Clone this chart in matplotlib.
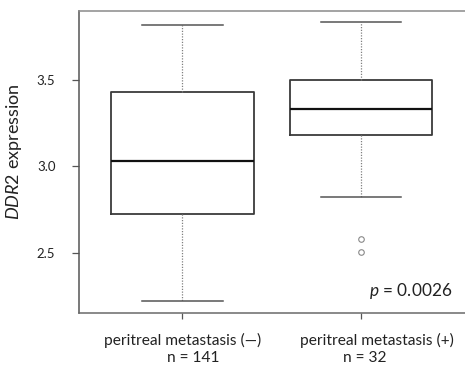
import matplotlib
matplotlib.use("Agg")
import matplotlib.pyplot as plt

# ---- data ----
groups = ["peritreal metastasis (\u2014)", "peritreal metastasis (+)"]
counts = ["n = 141", "n = 32"]
whisker_low = [2.219, 2.820]
q1 = [2.725, 3.180]
median = [3.029, 3.334]
q3 = [3.433, 3.499]
whisker_high = [3.820, 3.837]
outliers = [[], [2.577, 2.507]]
yticks = [2.5, 3.0, 3.5]
p_text = "$p$ = 0.0026"

plt.rcParams['font.family'] = ['Lato', 'DejaVu Sans']
plt.rcParams['mathtext.fontset'] = 'custom'
plt.rcParams['mathtext.it'] = 'Lato:italic'
plt.rcParams['mathtext.rm'] = 'Lato'

fig = plt.figure(figsize=(4.65, 3.69), dpi=100)
ax = fig.add_axes([79 / 465, 1 - 313 / 369, 390 / 465, 302 / 369])

positions = [1, 2]
stats = []
for i in range(len(groups)):
    stats.append(dict(med=median[i], q1=q1[i], q3=q3[i],
                      whislo=whisker_low[i], whishi=whisker_high[i],
                      fliers=outliers[i]))

ax.bxp(stats, positions=positions, widths=0.8, capwidths=0.45,
       boxprops=dict(color='#3a3a3a', linewidth=1.3),
       whiskerprops=dict(color='#808080', linewidth=0.9, linestyle=(0, (1, 1.2))),
       capprops=dict(color='#555555', linewidth=1.1),
       medianprops=dict(color='#111111', linewidth=1.6),
       flierprops=dict(marker='o', markersize=4, markerfacecolor='none',
                       markeredgecolor='#888888', markeredgewidth=0.8))

# right edge of the original frame is cropped off, so the axes run past the figure
ax.set_xlim(0.42, 2.606)
ax.set_ylim(2.151, 3.90)
ax.set_xticks(positions)
ax.set_xticklabels(["", ""])
ax.set_yticks(yticks)
ax.set_yticklabels([f"{t:.1f}" for t in yticks])
ax.tick_params(axis='both', colors='#555555', labelcolor='#222222', width=0.9)
ax.tick_params(axis='y', labelsize=9.5, length=5, pad=12)
ax.tick_params(axis='x', length=4)

# category labels, hand-placed under each box as in the original figure
shift1 = [0.3, 11.5]   # horizontal offsets (pt) of first line
shift2 = [7.5, 3.0]    # horizontal offsets (pt) of second line
for i, pos in enumerate(positions):
    ax.annotate(groups[i], xy=(pos, 0), xycoords=ax.get_xaxis_transform(),
                xytext=(shift1[i], -19.5), textcoords='offset points',
                ha='center', va='center', fontsize=11.2, color='#222222')
    ax.annotate(counts[i], xy=(pos, 0), xycoords=ax.get_xaxis_transform(),
                xytext=(shift2[i], -32.5), textcoords='offset points',
                ha='center', va='center', fontsize=11.2, color='#222222')

ax.spines['left'].set_color('#555555')
ax.spines['top'].set_color('#8a8a8a')
ax.spines['bottom'].set_color('#6a6a6a')
for s in ax.spines.values():
    s.set_linewidth(1.1)

ax.set_ylabel(r"$DDR2$ expression", fontsize=13, color='#222222')
ax.yaxis.set_label_coords(-0.141, 0.535)

ax.annotate(p_text, xy=(452 / 465, 0.056), xycoords=('figure fraction', 'axes fraction'),
            ha='right', va='baseline', fontsize=12.4, color='#222222')

fig.savefig("out.png", dpi=100)
